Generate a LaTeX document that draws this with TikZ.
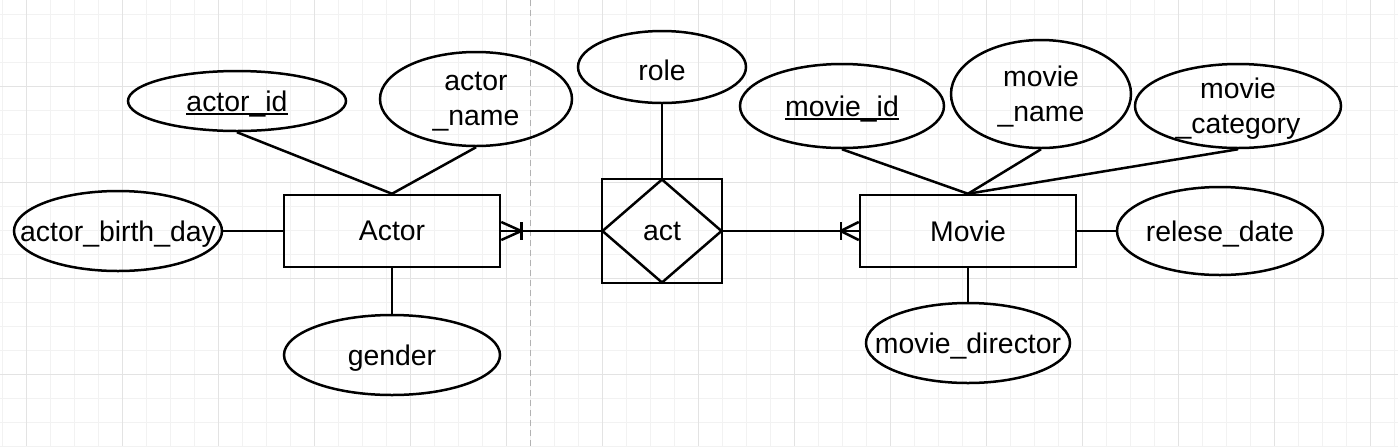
\documentclass[tikz,border=0pt]{standalone}
\usepackage{fontspec}
\setmainfont{Liberation Sans}
\usetikzlibrary{shapes.geometric}
\newcommand\keyattr[1]{\setbox0\hbox{#1}\rlap{\rule[-1.7pt]{\wd0}{0.9pt}}\box0}
\begin{document}
\begin{tikzpicture}[x=0.5pt,y=-0.5pt,
  line width=1.25pt,
  txt/.style={font=\fontsize{14.2}{17.5}\selectfont, align=center},
  attr/.style={draw, ellipse, inner sep=0pt, label={[txt, yshift=-1.5pt]center:#1}},
  ent/.style={draw, rectangle, inner sep=0pt, minimum width=108pt, minimum height=36pt, txt},
  link/.style={draw, line width=1.25pt},
  minorgrid/.style={draw=black!5, line width=0.5pt},
  majorgrid/.style={draw=black!11, line width=0.5pt},
  sep/.style={draw=black!30, line width=0.5pt, dash pattern=on 3pt off 2pt}
]
\useasboundingbox (0,0) rectangle (1398,446);
\fill[white] (0,0) rectangle (1398,446);
% grid
\foreach \x in {2,26,...,1398} \draw[minorgrid] (\x,0) -- (\x,446);
\foreach \y in {14,38,...,446} \draw[minorgrid] (0,\y) -- (1398,\y);
\foreach \x in {26,122,...,1398} \draw[majorgrid] (\x,0) -- (\x,446);
\foreach \y in {86,182,...,446} \draw[majorgrid] (0,\y) -- (1398,\y);
\draw[sep] (530,0) -- (530,446);

% entities
\node[ent] (actor) at (392,231) {\raisebox{-1.5pt}{Actor}};
\node[ent] (movie) at (968,231) {\raisebox{-1.5pt}{Movie}};
\node[draw, rectangle, inner sep=0pt, minimum width=60pt, minimum height=52pt] (actbox) at (662,231) {};
\node[draw, diamond, inner sep=0pt, minimum width=60pt, minimum height=52pt, txt] (act) at (662,231) {\raisebox{-1.5pt}{act}};

% attributes
\node[attr={\keyattr{actor\_id}}, minimum width=109pt, minimum height=30pt] (actorid) at (237,101) {};
\node[attr={actor\\\_name}, minimum width=96pt, minimum height=47pt] (actorname) at (476,99) {};
\node[attr={actor\_birth\_day}, minimum width=104pt, minimum height=40pt] (birth) at (118,231) {};
\node[attr={gender}, minimum width=108pt, minimum height=40pt] (gender) at (392,355) {};
\node[attr={role}, minimum width=84pt, minimum height=36pt] (role) at (662,67) {};
\node[attr={\keyattr{movie\_id}}, minimum width=102pt, minimum height=42pt] (movieid) at (842,106) {};
\node[attr={movie\\\_name}, minimum width=90pt, minimum height=54pt] (moviename) at (1041,94) {};
\node[attr={movie\\\_category}, minimum width=103pt, minimum height=42pt] (moviecat) at (1238,106) {};
\node[attr={relese\_date}, minimum width=103pt, minimum height=44pt] (release) at (1220,231) {};
\node[attr={movie\_director}, minimum width=102pt, minimum height=40pt] (director) at (968,343) {};

% attribute links
\draw[link] (actorid.south) -- (actor.north);
\draw[link] (actorname.south) -- (actor.north);
\draw[link] (birth.east) -- (actor.west);
\draw[link] (gender.north) -- (actor.south);
\draw[link] (role.south) -- (actbox.north);
\draw[link] (movieid.south) -- (movie.north);
\draw[link] (moviename.south) -- (movie.north);
\draw[link] (moviecat.south) -- (movie.north);
\draw[link] (movie.east) -- (release.west);
\draw[link] (movie.south) -- (director.north);

% relationship links with crow's feet
\draw[link] (actor.east) -- (act.west);
\draw[link] ([yshift=4.5pt]actor.east) -- ([xshift=10pt]actor.east) -- ([yshift=-4.5pt]actor.east);
\draw[link] ([xshift=10pt,yshift=4.5pt]actor.east) -- ([xshift=10pt,yshift=-4.5pt]actor.east);
\draw[link] (act.east) -- (movie.west);
\draw[link] ([yshift=4.5pt]movie.west) -- ([xshift=-9pt]movie.west) -- ([yshift=-4.5pt]movie.west);
\draw[link] ([xshift=-9pt,yshift=4.5pt]movie.west) -- ([xshift=-9pt,yshift=-4.5pt]movie.west);
\end{tikzpicture}
\end{document}
